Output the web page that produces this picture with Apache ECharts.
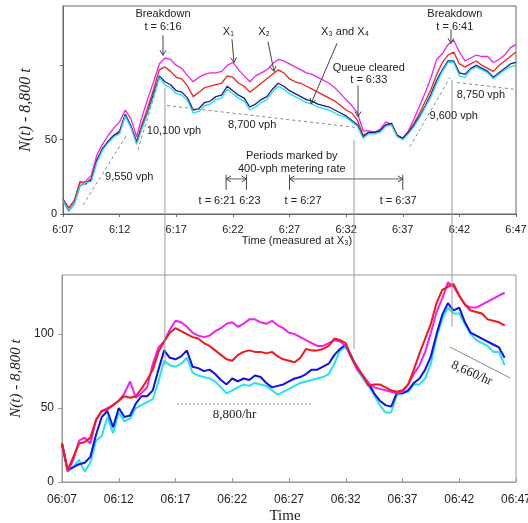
<!DOCTYPE html>
<html>
<head>
<meta charset="utf-8">
<script src="https://cdn.jsdelivr.net/npm/echarts@6/dist/echarts.min.js"></script>
<style>
  html, body { margin: 0; background: #fff; }
  #chart { width: 528px; height: 523px; }
</style>
</head>
<body>
<div id="chart"></div>
<script>
// minutes after 6:07, sampled every half minute
const topTicks = ['6:07', '6:12', '6:17', '6:22', '6:27', '6:32', '6:37', '6:42', '6:47']
const bottomTicks = ['06:07', '06:12', '06:17', '06:22', '06:27', '06:32', '06:37', '06:42', '06:47']

// upper panel: X1 .. X4
const topX1 = [10,4,9,21,22,26,40,47,53,58,62,70,64,52,66,78,89,101,105,104,100,98,93,89,92,94,95,95,96,100,102,97,93,89,93,95,97,101,104,103,101,99,97,95,94,92,90,88,85,81,77,73,68,56,56,55,57,62,60,53,51,56,64,73,82,92,104,108,114,117,109,103,105,107,106,106,102,104,107,112,114]
const topX2 = [10,4,9,22,20,24,37,44,49,53,56,67,59,49,61,72,84,97,99,96,92,91,86,79,82,85,86,87,88,93,92,88,86,82,85,88,91,94,97,95,91,89,88,86,84,82,80,78,76,73,70,68,63,53,55,55,56,60,61,53,51,55,61,68,76,84,94,102,107,109,101,99,101,103,100,98,96,100,103,106,109]
const topX3 = [9,2,7,19,21,23,36,44,49,53,55,67,59,48,59,69,81,93,89,87,83,82,78,70,71,75,76,79,80,86,83,80,78,72,74,77,79,84,88,86,83,81,79,77,76,74,73,72,70,68,66,63,60,52,55,55,56,60,61,53,51,55,60,66,73,81,90,97,103,103,95,94,98,100,98,96,92,95,98,101,102]
const topX4 = [9,2,7,19,21,22,35,43,48,52,54,66,58,47,58,68,79,92,87,85,81,80,76,68,69,73,74,77,78,84,81,78,76,70,72,75,77,82,86,84,81,79,77,75,74,72,71,70,68,66,65,62,59,51,54,54,55,59,60,52,50,54,59,65,72,79,88,96,102,102,93,92,97,99,97,95,91,94,97,99,100]

// lower panel
const botMagenta = [26,7,15,28,30,26,42,48,50,52,55,60,68,57,60,64,80,91,95,103,109,108,105,101,99,98,99,102,104,107,108,105,107,110,110,108,107,109,106,104,101,100,98,96,94,92,92,94,96,95,92,84,76,72,67,64,63,62,61,60,61,66,73,79,88,101,115,124,135,132,126,120,118,118,120,122,124,126,128]
const botRed = [26,8,17,26,27,30,42,48,49,52,55,58,57,58,63,69,76,88,95,101,104,102,100,98,97,94,92,89,86,83,82,86,88,89,88,88,87,88,85,83,82,81,84,90,89,89,90,92,97,96,94,84,78,72,65,66,66,64,62,61,62,66,76,87,97,107,121,130,132,134,126,120,116,115,114,110,109,108,106]
const botBlue = [26,8,10,12,13,17,32,44,48,37,50,44,45,53,58,58,62,76,89,84,83,85,89,78,77,75,76,73,69,66,70,68,70,69,72,71,67,64,65,66,68,70,71,73,76,76,78,80,86,90,93,85,77,72,67,60,55,52,51,60,60,62,67,70,76,85,100,113,121,116,118,108,101,99,97,95,93,91,84]
const botCyan = [26,7,10,15,7,13,28,31,44,33,47,41,43,50,52,54,56,68,82,79,78,80,84,74,72,71,70,68,64,60,62,64,66,65,67,66,65,62,59,61,63,65,67,68,69,70,71,73,80,89,91,85,76,70,65,59,52,47,47,59,60,61,66,66,70,80,98,110,118,114,114,107,100,96,94,92,88,88,79]

// annotations, in (minutes, value) of their panel
const topNotes = [
  ['Breakdown', 8.83, 134.5], ['t = 6:16', 8.83, 125.7],
  ['X\u2081', 14.6, 122.3], ['X\u2082', 17.75, 122.3], ['X\u2083 and X\u2084', 24.9, 122.3],
  ['Queue cleared', 27.0, 98.6], ['t = 6:33', 27.0, 90.5],
  ['Breakdown', 34.6, 134.5], ['t = 6:41', 34.6, 125.7],
  ['9,550 vph', 5.85, 25], ['10,100 vph', 9.8, 56], ['8,700 vph', 16.7, 60],
  ['9,600 vph', 34.5, 66], ['8,750 vph', 36.9, 80],
  ['Periods marked by', 20.2, 39], ['400-vph metering rate', 20.2, 30.4],
  ['t = 6:21', 13.6, 8.8], ['6:23', 16.5, 8.8], ['t = 6:27', 21.2, 8.8], ['t = 6:37', 29.6, 8.8],
]
const topArrows = [
  [[8.83, 120.3], [8.83, 106.8]],
  [[14.92, 117.6], [15.1, 102]],
  [[18.1, 116], [18.63, 96]],
  [[24.2, 114.9], [21.9, 74.3]],
  [[26.05, 86.5], [26.05, 65.5]],
  [[34.26, 124.3], [34.26, 114.9]],
]
const topRateLines = [
  [[1.77, 6.1], [5.65, 53.4]],
  [[6.62, 43.2], [8.57, 92.6]],
  [[9.18, 73], [26.05, 58.1]],
  [[30.64, 45.3], [34.17, 91.9]],
  [[34.8, 88.5], [40, 83.8]],
]
const meterPeriods = [[14.4, 16.2], [20.0, 30.0]]
// connectors: minute, value in upper panel, value in lower panel
const connectors = [[9.0, 85, 79], [25.7, 50, 90], [34.35, 90, 105]]

const chart = echarts.init(document.getElementById('chart'))
const sans = 'Liberation Sans, Arial, sans-serif'
const serif = 'Liberation Serif, Times New Roman, serif'

const topTime = topX1.map((_, i) => i * 0.5)
const botTime = botCyan.map((_, i) => i * 0.5)
const pairs = (times, vals) => vals.map((v, i) => [times[i], v])

const line = (name, grid, times, vals, color, width) => ({
  type: 'line', name, xAxisIndex: grid, yAxisIndex: grid,
  data: pairs(times, vals), showSymbol: false, symbol: 'none',
  lineStyle: { color, width }, itemStyle: { color }, silent: true,
})

chart.setOption({
  animation: false,
  backgroundColor: '#fff',
  grid: [
    { left: 63, right: 12, top: 6, height: 208, show: true, borderColor: '#666', borderWidth: 1, outerBoundsMode: 'none' },
    { left: 62, right: 12, top: 275, height: 207, show: true, borderColor: '#999', borderWidth: 1, outerBoundsMode: 'none' },
  ],
  xAxis: [
    {
      gridIndex: 0, type: 'value', min: 0, max: 40, interval: 5,
      name: 'Time (measured at X\u2083)', nameLocation: 'middle', nameGap: 19,
      nameTextStyle: { fontFamily: sans, fontSize: 11, color: '#222', padding: [0, 0, 0, 15] },
      axisLine: { lineStyle: { color: '#666' } },
      axisTick: { length: 3, lineStyle: { color: '#666' } },
      axisLabel: { formatter: (v) => topTicks[v / 5], fontFamily: sans, fontSize: 11, color: '#222', margin: 10 },
      splitLine: { show: false },
    },
    {
      gridIndex: 1, type: 'value', min: 0, max: 40, interval: 5,
      name: 'Time', nameLocation: 'middle', nameGap: 27,
      nameTextStyle: { fontFamily: serif, fontSize: 15, color: '#222', padding: [0, 8, 0, 0] },
      axisLine: { lineStyle: { color: '#999' } },
      axisTick: { inside: true, length: 4, lineStyle: { color: '#999' } },
      axisLabel: { formatter: (v) => bottomTicks[v / 5], fontFamily: sans, fontSize: 12, color: '#222', margin: 12 },
      splitLine: { show: false },
    },
  ],
  yAxis: [
    {
      gridIndex: 0, type: 'value', min: 0, max: 140,
      name: 'N(t) - 8,800 t', nameLocation: 'middle', nameGap: 24,
      nameTextStyle: { fontFamily: serif, fontStyle: 'italic', fontSize: 16, color: '#222' },
      axisLine: { show: true, lineStyle: { color: '#666' } },
      axisTick: { show: true, length: 3, customValues: [0, 50, 100], lineStyle: { color: '#666' } },
      axisLabel: { customValues: [0, 50], fontFamily: sans, fontSize: 11, color: '#222', margin: 6 },
      splitLine: { show: false },
    },
    {
      gridIndex: 1, type: 'value', min: 0, max: 140,
      name: 'N(t) - 8,800 t', nameLocation: 'middle', nameGap: 35,
      nameTextStyle: { fontFamily: serif, fontStyle: 'italic', fontSize: 15, color: '#222' },
      axisLine: { show: true, lineStyle: { color: '#999' } },
      axisTick: { show: true, length: 4, customValues: [0, 50, 100], lineStyle: { color: '#999' } },
      axisLabel: { customValues: [0, 50, 100], fontFamily: sans, fontSize: 12, color: '#222', margin: 8 },
      splitLine: { show: false },
    },
  ],
  series: [
    line('X1', 0, topTime, topX1, '#ee22ee', 1.3),
    line('X2', 0, topTime, topX2, '#f02222', 1.3),
    line('X3', 0, topTime, topX3, '#1a1a90', 1.3),
    line('X4', 0, topTime, topX4, '#22dde8', 1.3),
    line('cyan', 1, botTime, botCyan, '#22e4f0', 2),
    line('blue', 1, botTime, botBlue, '#1010e8', 2),
    line('magenta', 1, botTime, botMagenta, '#f020f0', 2),
    line('red', 1, botTime, botRed, '#f01818', 2),
  ],
})

// annotation layer, placed through the axes
const px = (g, p) => chart.convertToPixel({ gridIndex: g }, p)
const seg = (a, b, stroke, dash, width) => ({
  type: 'line', silent: true, z: 50,
  shape: { x1: a[0], y1: a[1], x2: b[0], y2: b[1] },
  style: { stroke, lineWidth: width || 1, lineDash: dash || null },
})
const head = (from, tip) => {
  const dx = tip[0] - from[0], dy = tip[1] - from[1]
  const len = Math.hypot(dx, dy) || 1
  const ux = dx / len, uy = dy / len
  return {
    type: 'polyline', silent: true, z: 50,
    shape: { points: [
      [tip[0] - ux * 5 - uy * 3, tip[1] - uy * 5 + ux * 3],
      tip,
      [tip[0] - ux * 5 + uy * 3, tip[1] - uy * 5 - ux * 3],
    ] },
    style: { stroke: '#444', lineWidth: 1, fill: null },
  }
}
const label = (text, p, opts) => ({
  type: 'text', silent: true, z: 60, x: p[0], y: p[1], rotation: (opts && opts.rotation) || 0,
  style: {
    text, fill: '#222', align: 'center', verticalAlign: 'middle',
    fontFamily: (opts && opts.font) || sans, fontSize: (opts && opts.size) || 11,
  },
})

const g = []
connectors.forEach(([t, vTop, vBot]) => {
  const a = px(0, [t, vTop]), b = px(1, [t, vBot])
  g.push(seg(a, [a[0], b[1]], '#999'))
})
topRateLines.forEach(([a, b]) => g.push(seg(px(0, a), px(0, b), '#888', [3, 3])))
topArrows.forEach(([a, b]) => {
  const p1 = px(0, a), p2 = px(0, b)
  g.push(seg(p1, p2, '#444'), head(p1, p2))
})
meterPeriods.forEach(([t1, t2]) => {
  const a = px(0, [t1, 26.4]), b = px(0, [t1, 16.2])
  const c = px(0, [t2, 26.4]), d = px(0, [t2, 16.2])
  const l = px(0, [t1, 23.6]), r = px(0, [t2, 23.6])
  g.push(seg(a, b, '#444'), seg(c, d, '#444'), seg(l, r, '#666'), head(r, l), head(l, r))
})
topNotes.forEach(([text, t, v]) => g.push(label(text, px(0, [t, v]))))

g.push(seg(px(1, [10.13, 52.7]), px(1, [22.03, 52.7]), '#888', [2, 2]))
g.push(label('8,800/hr', px(1, [15.2, 45.3]), { font: serif, size: 13 }))
g.push(seg(px(1, [34.2, 91.2]), px(1, [39.5, 70.3]), '#888'))
g.push(label('8,660/hr', px(1, [36.1, 73.5]), { font: serif, size: 13, rotation: -0.42 }))

chart.setOption({ graphic: g })
</script>
</body>
</html>
